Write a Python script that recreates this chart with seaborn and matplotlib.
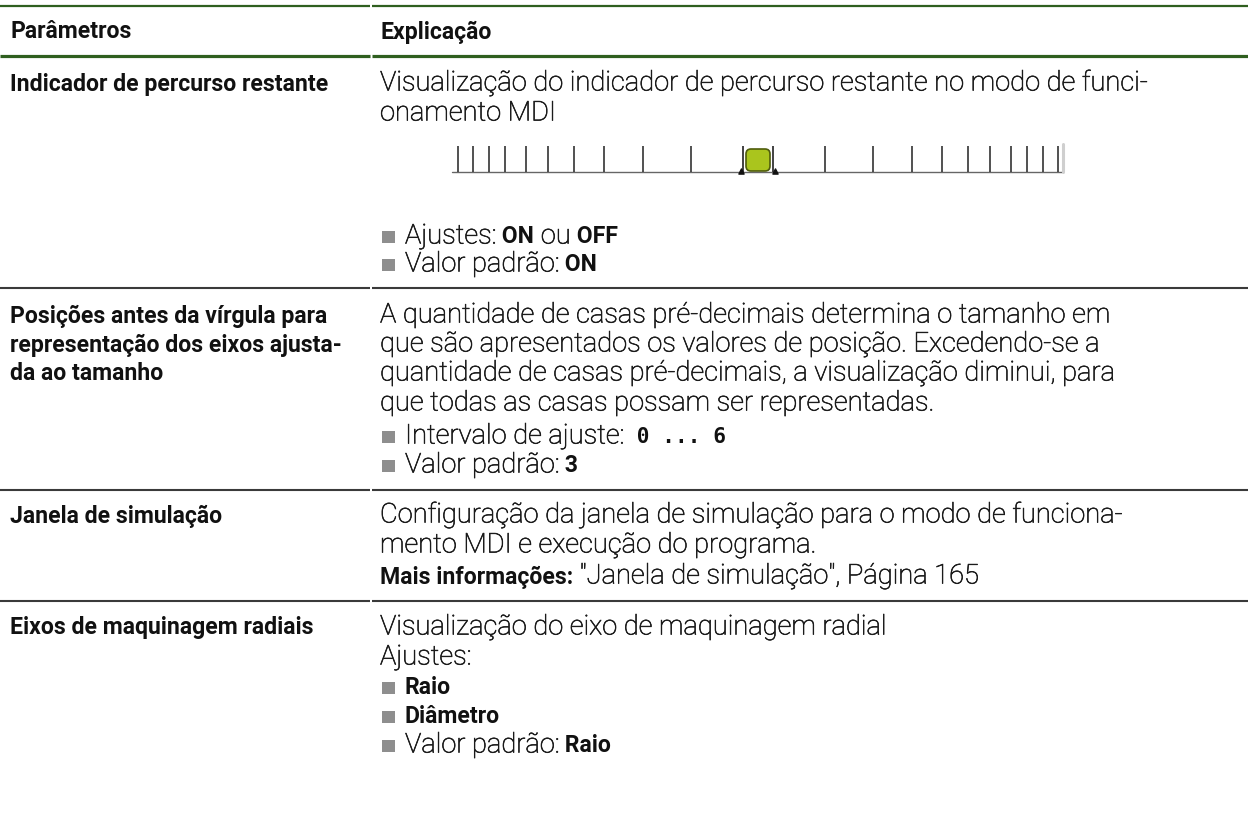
import matplotlib
matplotlib.use("Agg")
import matplotlib.pyplot as plt
import matplotlib.patches as patches
import matplotlib.patheffects as pe
import seaborn as sns
import pandas as pd

# ---- table content ----
header = ["Parâmetros", "Explicação"]

param_names = [
    ["Indicador de percurso restante"],
    ["Posições antes da vírgula para", "representação dos eixos ajusta-", "da ao tamanho"],
    ["Janela de simulação"],
    ["Eixos de maquinagem radiais"],
]

explanations = [
    [("text", [("Visualização do indicador de percurso restante no modo de funci-", "light")]),
     ("text", [("onamento MDI", "light")]),
     ("indicator", []),
     ("bullet", [("Ajustes:", "light"), (" ON", "bold"), (" ou", "light"), (" OFF", "bold")]),
     ("bullet", [("Valor padrão:", "light"), (" ON", "bold")])],
    [("text", [("A quantidade de casas pré-decimais determina o tamanho em", "light")]),
     ("text", [("que são apresentados os valores de posição. Excedendo-se a", "light")]),
     ("text", [("quantidade de casas pré-decimais, a visualização diminui, para", "light")]),
     ("text", [("que todas as casas possam ser representadas.", "light")]),
     ("bullet", [("Intervalo de ajuste:", "light"), (" 0 ... 6", "mono")]),
     ("bullet", [("Valor padrão:", "light"), (" 3", "bold")])],
    [("text", [("Configuração da janela de simulação para o modo de funciona-", "light")]),
     ("text", [("mento MDI e execução do programa.", "light")]),
     ("text", [("Mais informações:", "bold"), (' "Janela de simulação", Página 165', "light")])],
    [("text", [("Visualização do eixo de maquinagem radial", "light")]),
     ("text", [("Ajustes:", "light")]),
     ("bullet", [("Raio", "bold")]),
     ("bullet", [("Diâmetro", "bold")]),
     ("bullet", [("Valor padrão:", "light"), (" Raio", "bold")])],
]

# distance of the indicator ticks from the marker (both sides)
tick_offsets = [67, 115, 154, 184, 210, 232, 253, 269, 285, 300]

# ---- layout (pixels, y downwards) ----
W, H = 1248, 828
LEFT_X, RIGHT_X = 10, 380
GREEN = "#2f5f1f"
SEP = "#3a3a3a"
name_y = [[84], [316, 345, 374], [516], [628]]
line_y = [[84, 114, None, 237, 265],
          [316, 345, 374, 404, 437, 466],
          [516, 546, 577],
          [628, 658, 688, 717, 746]]
sep_ys = [289, 491, 602]
indicator_base = 173

sns.set_theme(style="white")
plt.rcParams["font.family"] = ["Roboto", "DejaVu Sans"]

fig = plt.figure(figsize=(W / 100, H / 100), dpi=100)
ax = fig.add_axes([0, 0, 1, 1])
ax.set_xlim(0, W)
ax.set_ylim(H, 0)
ax.axis("off")
renderer = fig.canvas.get_renderer()


def fit_size(text, target, **kw):
    t = ax.text(0, 0, text, fontsize=10, **kw)
    w = t.get_window_extent(renderer=renderer).width
    t.remove()
    return 10 * target / w


bold_kw = dict(family=["Roboto", "DejaVu Sans"], weight="bold", color="#111111")
light_kw = dict(family=["Roboto", "DejaVu Sans"], weight="light", color="#1a1a1a")
bold_size = fit_size("Indicador de percurso restante", 318, **bold_kw)
light_size = fit_size("Visualização do indicador de percurso restante no modo de funci-", 768, **light_kw)

# a thin stroke makes the light face as dark as in the print
thicken = [pe.Stroke(linewidth=0.45, foreground="#1a1a1a"), pe.Normal()]

styles = {
    "bold": dict(fontsize=bold_size, **bold_kw),
    "light": dict(fontsize=light_size, path_effects=thicken, **light_kw),
    "mono": dict(fontsize=bold_size * 0.92, family="DejaVu Sans Mono", weight="bold", color="#111111"),
}


def draw_runs(x, y, runs):
    for txt, st in runs:
        t = ax.text(x, y, txt, va="center", ha="left", **styles[st])
        x += t.get_window_extent(renderer=renderer).width


def hline(y, color, lw):
    ax.plot([0, 370], [y, y], color=color, lw=lw, solid_capstyle="butt")
    ax.plot([372, W], [y, y], color=color, lw=lw, solid_capstyle="butt")


# header
hline(7, GREEN, 1.6)
draw_runs(LEFT_X, 32, [(header[0], "bold")])
draw_runs(RIGHT_X, 32, [(header[1], "bold")])
hline(57, GREEN, 2.3)

bullets = []
for names, ny, lines, ly in zip(param_names, name_y, explanations, line_y):
    for name, y in zip(names, ny):
        draw_runs(LEFT_X, y, [(name, "bold")])
    for (kind, runs), y in zip(lines, ly):
        if kind == "indicator":
            continue
        if kind == "bullet":
            bullets.append((RIGHT_X + 8.5, y + 1))
            draw_runs(RIGHT_X + 25, y, runs)
        else:
            draw_runs(RIGHT_X, y, runs)
for y in sep_ys:
    hline(y, SEP, 1.5)

# bullets
bdf = pd.DataFrame(bullets, columns=["x", "y"])
sns.scatterplot(data=bdf, x="x", y="y", marker="s", s=85, color="#8e8e8e",
                edgecolor="none", linewidth=0, ax=ax, legend=False)

# distance-to-go indicator
cx = 758
base = indicator_base
top = base - 26
ticks = pd.DataFrame({"x": [cx - o for o in tick_offsets] + [cx + o for o in tick_offsets]})
ax.plot([cx - 306, cx + 304], [base, base], color="#666666", lw=1.0)
ax.vlines(ticks["x"], top, base, color="#333333", lw=1.2)
ax.plot([cx + 305, cx + 305], [top - 2, base], color="#cfcfcf", lw=2.2)
ax.vlines([cx - 15, cx + 15], top, base, color="#222222", lw=1.2)
ax.scatter([cx - 17, cx + 17], [base - 1, base - 1], marker="^", s=14, color="#111111", zorder=3)
ax.add_patch(patches.FancyBboxPatch((cx - 10.5, top + 4.5), 21, 19,
                                    boxstyle="round,pad=1.5,rounding_size=5",
                                    facecolor="#aac51d", edgecolor="#4f5c0c", lw=1.2, zorder=4))

ax.set_xlim(0, W)
ax.set_ylim(H, 0)
fig.savefig("out.png", dpi=100)
